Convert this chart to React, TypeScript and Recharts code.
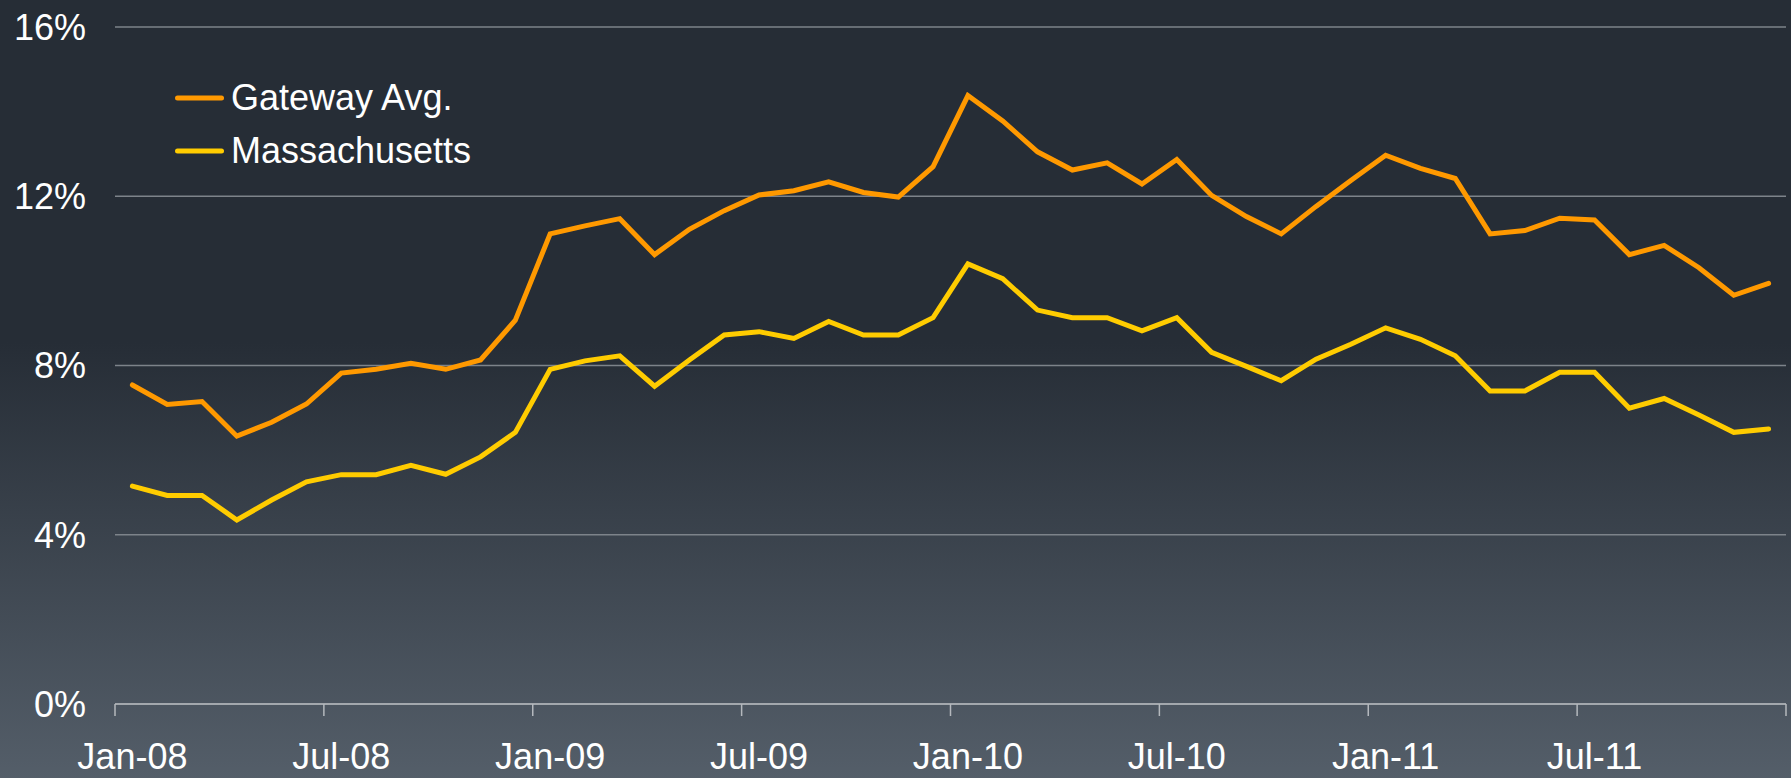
import React from "react"
import { LineChart, Line, XAxis, YAxis, CartesianGrid, Legend } from "recharts"

const months = [
  "Jan-08", "Feb-08", "Mar-08", "Apr-08", "May-08", "Jun-08", "Jul-08", "Aug-08", "Sep-08", "Oct-08", "Nov-08", "Dec-08",
  "Jan-09", "Feb-09", "Mar-09", "Apr-09", "May-09", "Jun-09", "Jul-09", "Aug-09", "Sep-09", "Oct-09", "Nov-09", "Dec-09",
  "Jan-10", "Feb-10", "Mar-10", "Apr-10", "May-10", "Jun-10", "Jul-10", "Aug-10", "Sep-10", "Oct-10", "Nov-10", "Dec-10",
  "Jan-11", "Feb-11", "Mar-11", "Apr-11", "May-11", "Jun-11", "Jul-11", "Aug-11", "Sep-11", "Oct-11", "Nov-11", "Dec-11",
]

const gatewayAvg = [
  7.54, 7.08, 7.15, 6.33, 6.66, 7.09, 7.82, 7.91, 8.05, 7.91, 8.13, 9.07,
  11.11, 11.3, 11.47, 10.62, 11.22, 11.66, 12.03, 12.13, 12.34, 12.09, 11.98, 12.7,
  14.38, 13.78, 13.05, 12.62, 12.79, 12.29, 12.87, 12.02, 11.52, 11.11, 11.76, 12.37,
  12.97, 12.66, 12.42, 11.11, 11.19, 11.48, 11.44, 10.62, 10.84, 10.31, 9.66, 9.94,
]

const massachusetts = [
  5.15, 4.93, 4.93, 4.35, 4.82, 5.25, 5.42, 5.42, 5.64, 5.43, 5.84, 6.42,
  7.91, 8.11, 8.23, 7.51, 8.13, 8.72, 8.8, 8.64, 9.04, 8.72, 8.72, 9.13,
  10.4, 10.05, 9.31, 9.13, 9.13, 8.82, 9.13, 8.31, 7.98, 7.64, 8.15, 8.5,
  8.89, 8.62, 8.23, 7.4, 7.4, 7.84, 7.84, 6.99, 7.22, 6.83, 6.42, 6.5,
]

const xTickLabels = ["Jan-08", "Jul-08", "Jan-09", "Jul-09", "Jan-10", "Jul-10", "Jan-11", "Jul-11"]
const yTicks = [0, 4, 8, 12, 16]

const seriesNames = ["Gateway Avg.", "Massachusetts"]
const seriesColors = ["#ff9900", "#ffcc00"]

const WIDTH = 1791
const HEIGHT = 778
const FONT = '"Liberation Sans", Arial, Helvetica, sans-serif'

// each month gets its own slot, like an Excel category axis
const data = months.map((m, i) => ({
  month: m,
  pos: i + 0.5,
  gateway: gatewayAvg[i],
  mass: massachusetts[i],
}))

const xTicks = xTickLabels.map((_, i) => i * 6).concat([months.length])

function MonthTick(props: any) {
  const { x, y, payload, width } = props
  const idx = payload.value / 6
  if (idx >= xTickLabels.length) return <g />
  const plotW = typeof width === "number" ? width : WIDTH - 120
  const half = plotW / months.length / 2
  return (
    <text x={x + half} y={y} dy="0.71em" textAnchor="middle" fill="#ffffff" fontSize={36} fontFamily={FONT}>
      {xTickLabels[idx]}
    </text>
  )
}

function LegendBox() {
  return (
    <div style={{ fontFamily: FONT, fontSize: 36, color: "#ffffff" }}>
      {seriesNames.map((name, i) => (
        <div key={name} style={{ display: "flex", alignItems: "center", height: 53, lineHeight: "53px" }}>
          <svg width={49} height={8} style={{ display: "block" }}>
            <line x1={2.5} y1={4} x2={46.5} y2={4} stroke={seriesColors[i]} strokeWidth={5} strokeLinecap="round" />
          </svg>
          <span style={{ marginLeft: 7, whiteSpace: "nowrap" }}>{name}</span>
        </div>
      ))}
    </div>
  )
}

export default function App() {
  return (
    <div
      style={{
        position: "absolute",
        left: 0,
        top: 0,
        width: WIDTH,
        height: HEIGHT,
        background: "linear-gradient(to bottom, #262d36 0%, #262d36 44%, #545e69 100%)",
      }}
    >
      <LineChart width={WIDTH} height={HEIGHT} data={data} margin={{ top: 27, right: 5, bottom: 0, left: 0 }}>
        <CartesianGrid vertical={false} stroke="#7d838a" strokeWidth={1.3} />
        <XAxis
          type="number"
          dataKey="pos"
          domain={[0, months.length]}
          ticks={xTicks}
          interval={0}
          height={74}
          tickSize={12}
          tickMargin={27}
          axisLine={{ stroke: "#b4b8bd", strokeWidth: 1.5 }}
          tickLine={{ stroke: "#b4b8bd", strokeWidth: 1.5 }}
          tick={<MonthTick />}
        />
        <YAxis
          type="number"
          domain={[0, 16]}
          ticks={yTicks}
          width={115}
          axisLine={false}
          tickLine={false}
          tickSize={0}
          tickMargin={29}
          tickFormatter={(v: number) => `${v}%`}
          tick={{ fill: "#ffffff", fontSize: 36, fontFamily: FONT }}
        />
        <Legend
          layout="vertical"
          verticalAlign="middle"
          align="center"
          wrapperStyle={{ left: 175, top: 71, width: "auto", height: "auto" }}
          content={() => <LegendBox />}
        />
        <Line
          type="linear"
          dataKey="gateway"
          name={seriesNames[0]}
          stroke={seriesColors[0]}
          strokeWidth={5}
          strokeLinecap="round"
          dot={false}
          activeDot={false}
          isAnimationActive={false}
        />
        <Line
          type="linear"
          dataKey="mass"
          name={seriesNames[1]}
          stroke={seriesColors[1]}
          strokeWidth={5}
          strokeLinecap="round"
          dot={false}
          activeDot={false}
          isAnimationActive={false}
        />
      </LineChart>
    </div>
  )
}
